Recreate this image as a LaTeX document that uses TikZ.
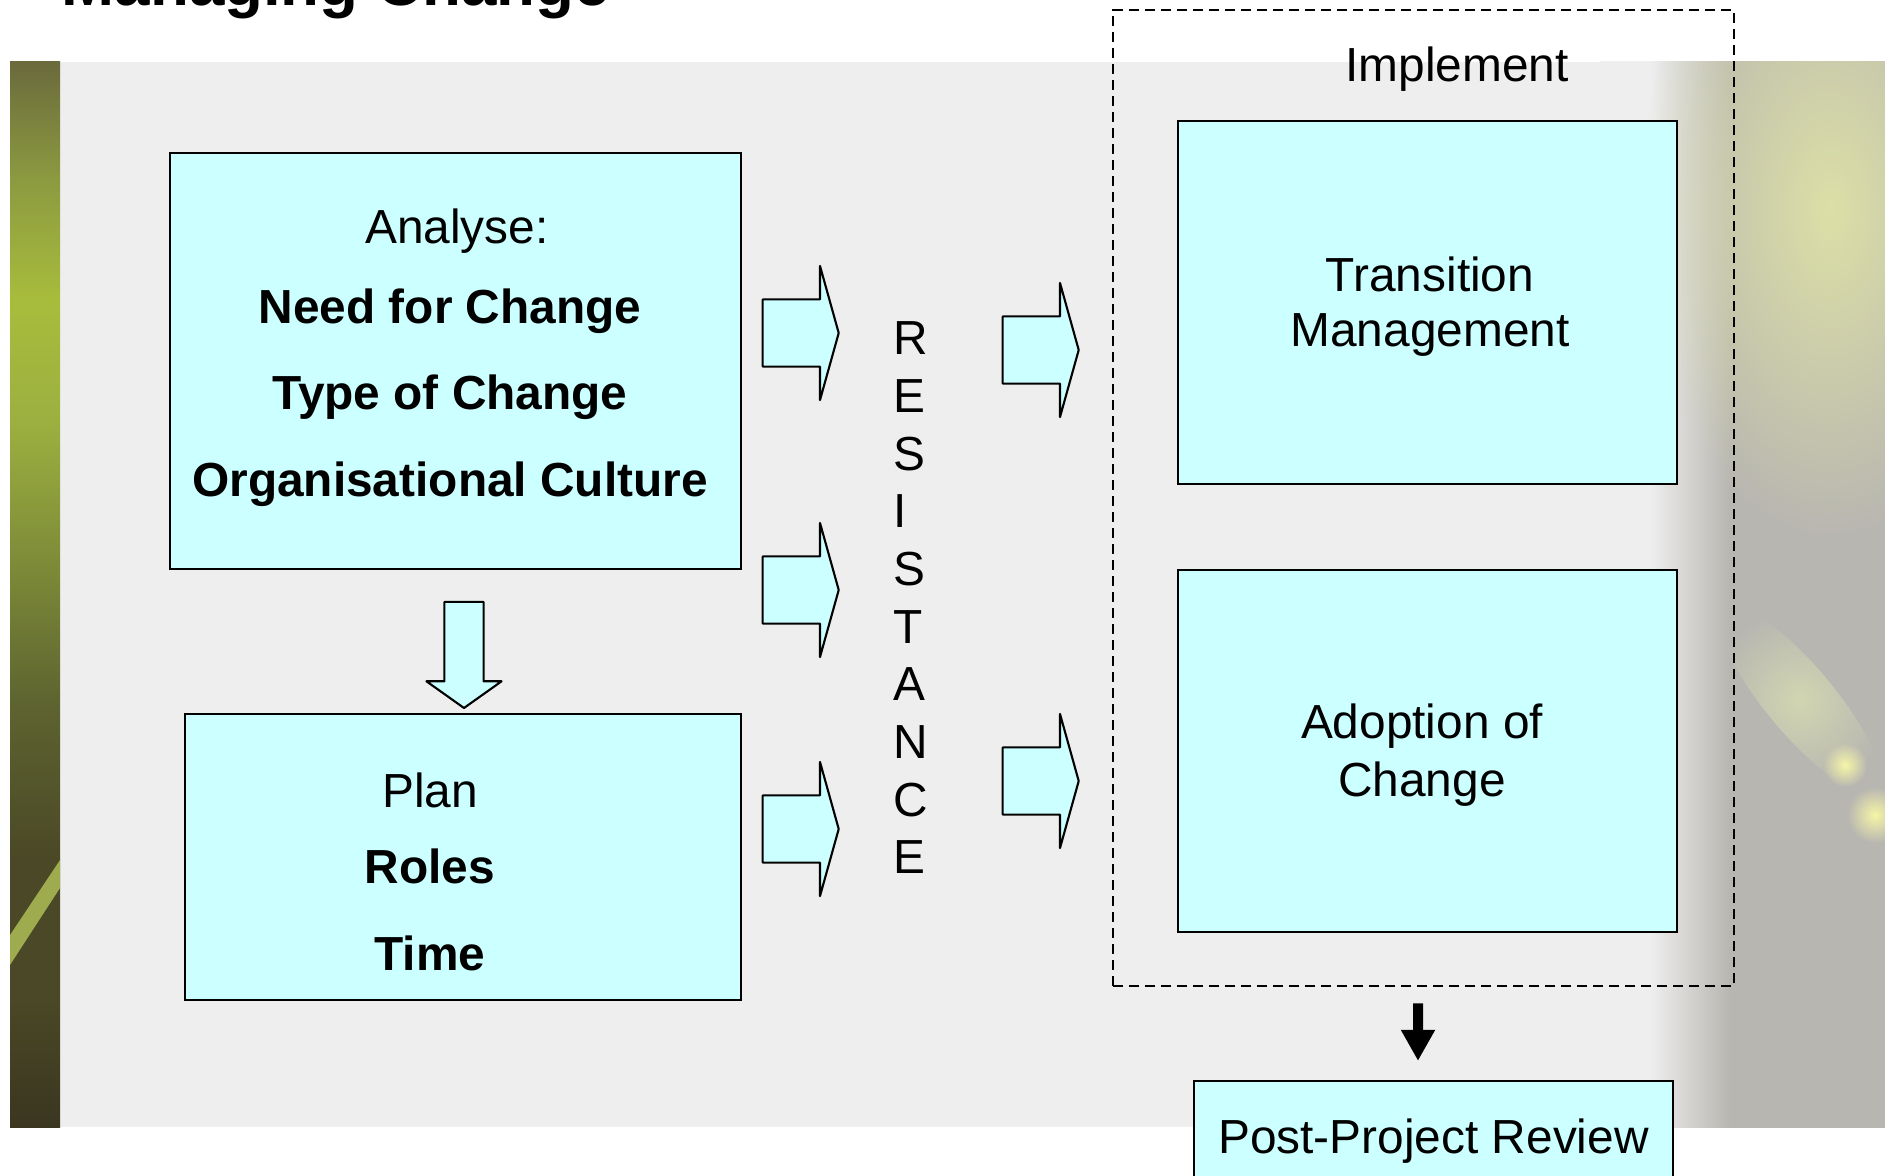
\documentclass[tikz,border=0pt]{standalone}
\usepackage{fontspec}
\setmainfont{Liberation Sans}
\usetikzlibrary{arrows.meta,shapes.arrows,positioning,fadings}

\definecolor{boxcyan}{HTML}{CCFFFF}
\definecolor{bggray}{HTML}{EEEEEE}
\definecolor{sidegray}{HTML}{B8B6B1}
\definecolor{sideglow}{HTML}{DCE0A6}
\definecolor{sidestreak}{HTML}{D2D6B2}
\definecolor{sidespark}{HTML}{F6F6A8}
\definecolor{grassstreak}{HTML}{B4C458}
\definecolor{grassA}{HTML}{6A6A3C}
\definecolor{grassB}{HTML}{8C9A40}
\definecolor{grassC}{HTML}{A8BC3C}
\definecolor{grassD}{HTML}{9CB040}
\definecolor{grassE}{HTML}{7E8C38}
\definecolor{grassF}{HTML}{5E6430}
\definecolor{grassG}{HTML}{4A4826}
\definecolor{grassH}{HTML}{3A3620}

% grass strip on the left, bottom to top
\pgfdeclareverticalshading{grassstrip}{100bp}{%
  color(0bp)=(grassH); color(25bp)=(grassH); color(31bp)=(grassG);
  color(37.5bp)=(grassG); color(45bp)=(grassF); color(51.6bp)=(grassE);
  color(58.2bp)=(grassD); color(63.8bp)=(grassC); color(69.5bp)=(grassB);
  color(75bp)=(grassA); color(100bp)=(grassA)}
% photo edge on the right, left to right
\pgfdeclarehorizontalshading{sideshade}{100bp}{%
  color(0bp)=(bggray); color(33.8bp)=(bggray); color(47.8bp)=(sidegray);
  color(100bp)=(sidegray)}
% soft light spots
\tikzfading[name=softspot, inner color=transparent!0, outer color=transparent!100]

\begin{document}
\begin{tikzpicture}[
  x=0.01cm, y=-0.01cm,
  >=Latex,
  every node/.style={font=\fontsize{13.6}{16.4}\selectfont, inner sep=0pt},
  box/.style={draw, line width=0.6pt, fill=boxcyan, align=center},
  blockarrow/.style={single arrow, draw, line width=0.6pt, line join=round, fill=boxcyan, inner xsep=0pt, inner ysep=0.325cm, minimum height=0.76cm, single arrow head extend=0.335cm, single arrow tip angle=148.8, single arrow head indent=0pt},
  downarrow/.style={blockarrow, rotate=-90, inner ysep=0.185cm, minimum height=1.06cm, single arrow head extend=0.18cm, single arrow tip angle=109.2},
  implement/.style={draw, dash pattern=on 0.1cm off 0.06cm, line width=0.6pt, minimum width=6.21cm, minimum height=9.76cm},
  heavy/.style={line width=0.1cm, -{Triangle[length=0.31cm, width=0.32cm]}},
  glow/.style={path fading=softspot}
]
\useasboundingbox (0,0) rectangle (1885,1176);

% backdrop
\fill[bggray] (10,62) rectangle (1885,1127);
\shade[shading=sideshade] (1600,62) rectangle (1885,1127);
\begin{scope}
  \clip (1600,62) rectangle (1885,1127);
  \fill[sideglow, glow] (1830,210) ellipse [x radius=190, y radius=330];
  \fill[sidestreak, glow, rotate around={-50:(1800,700)}] (1800,700) ellipse [x radius=120, y radius=34];
  \fill[sidespark, glow] (1845,765) circle [radius=22];
  \fill[sidespark, glow] (1875,815) circle [radius=28];
\end{scope}
\shade[shading=grassstrip] (10,62) rectangle (60,1127);
\fill[grassstreak, opacity=0.8] (10,935) -- (60,860) -- (60,888) -- (10,965) -- cycle;

\node[anchor=base west, font=\fontsize{18.1}{21}\selectfont\bfseries] (title) at (61,6) {Managing Change};

% analyse and plan
\node[box, minimum width=5.71cm, minimum height=4.16cm] (analyse) at (455.5,361) {};
\node[align=center] (analysetext) at (450,357.5) {\hspace*{0.14cm}Analyse:\\[0.224cm]\textbf{Need for Change}\\[0.284cm]\textbf{Type of Change}\\[0.294cm]\textbf{Organisational Culture}};
\node[downarrow] (down) at (464,648) {};
\node[box, minimum width=5.56cm, minimum height=2.86cm] (plan) at (463,857) {};
\node[align=center] (plantext) at (430,872) {Plan\\[0.184cm]\textbf{Roles}\\[0.294cm]\textbf{Time}};

% arrows through resistance
\foreach \y [count=\i] in {333,590,829}
  \node[blockarrow] (push\i) at (796,\y) {};
\node[align=left] (resist) at (911,598) {R\\E\\S\\I\\S\\T\\A\\N\\C\\E};
\foreach \y [count=\i] in {350,781}
  \node[blockarrow] (pass\i) at (1036,\y) {};

% implement
\node[implement] (impl) at (1423.5,498) {};
\node[anchor=base] (impltitle) at (1457,82) {Implement};
\node[box, minimum width=4.99cm, minimum height=3.63cm] (trans) at (1427.5,302.5) {};
\node[align=center] (transtext) at (1430,306.5) {Transition\\[-0.026cm]Management};
\node[box, minimum width=4.99cm, minimum height=3.62cm] (adopt) at (1427.5,751) {};
\node[align=center] (adopttext) at (1422,755) {Adoption of\\Change};

\node[box, minimum width=4.79cm, minimum height=1.21cm] (review) at (1433.5,1141.5) {Post-Project Review};
\draw[heavy] ([xshift=-0.055cm,yshift=-0.16cm]impl.south) -- ([xshift=-0.155cm,yshift=0.19cm]review.north);
\end{tikzpicture}
\end{document}
